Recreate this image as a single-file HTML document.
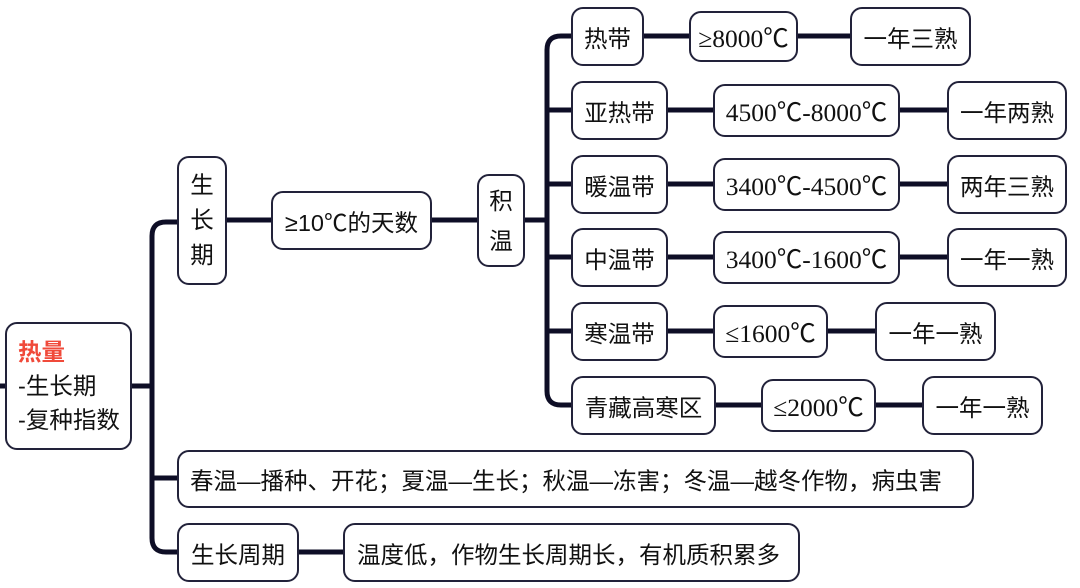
<!DOCTYPE html>
<html><head><meta charset="utf-8"><style>
body{margin:0;width:1080px;height:588px;background:#fff;position:relative;overflow:hidden;font-family:"Liberation Sans","Noto Sans CJK SC",sans-serif;color:#111}
.b{position:absolute;box-sizing:border-box;border:2px solid #22223a;border-radius:12px;background:#fff;display:flex;align-items:center;justify-content:center;font-size:23.5px;white-space:nowrap}
.s{font-family:"Liberation Serif","Noto Sans CJK SC",serif;font-size:25.5px}
svg{position:absolute;left:0;top:0}
</style></head><body>
<svg width="1080" height="588"><g fill="none" stroke="#0e0e26" stroke-width="5" stroke-linecap="round">
<path d="M0 386H152"/>
<path d="M177 222H166Q152 222 152 236V538Q152 552 166 552H177"/>
<path d="M152 478H177"/>
<path d="M226 220H271M431 220H477M524 220H547"/>
<path d="M571 36H561Q547 36 547 50V391Q547 405 561 405H571"/>
<path d="M547 110H571M547 184H571M547 257H571M547 331H571"/>
<path d="M643 36H689M797 36H850"/>
<path d="M667 110H713M899 110H947"/>
<path d="M667 184H713M899 184H947"/>
<path d="M667 257H713M899 257H947"/>
<path d="M667 331H713M827 331H875"/>
<path d="M715 405H761M875 405H922"/>
<path d="M298 552H343"/>
</g></svg>
<div class="b" style="left:5px;top:322px;width:127px;height:128px;justify-content:flex-start;padding-left:11px;line-height:34px"><div><span style="color:#f04a3a;font-weight:bold">热量</span><br>-生长期<br>-复种指数</div></div>
<div class="b" style="left:177px;top:156px;width:50px;height:129px;line-height:35px;text-align:center">生<br>长<br>期</div>
<div class="b" style="left:271px;top:191px;width:161px;height:59px">≥10℃的天数</div>
<div class="b" style="left:477px;top:174px;width:48px;height:93px;line-height:40px;text-align:center">积<br>温</div>
<div class="b" style="left:571px;top:7px;width:73px;height:59px">热带</div>
<div class="b s" style="left:689px;top:11px;width:109px;height:51px">≥8000℃</div>
<div class="b" style="left:850px;top:7px;width:121px;height:59px">一年三熟</div>
<div class="b" style="left:571px;top:81px;width:97px;height:59px">亚热带</div>
<div class="b s" style="left:713px;top:84px;width:187px;height:53px">4500℃-8000℃</div>
<div class="b" style="left:947px;top:81px;width:120px;height:59px">一年两熟</div>
<div class="b" style="left:571px;top:155px;width:97px;height:59px">暖温带</div>
<div class="b s" style="left:713px;top:158px;width:187px;height:53px">3400℃-4500℃</div>
<div class="b" style="left:947px;top:155px;width:120px;height:59px">两年三熟</div>
<div class="b" style="left:571px;top:228px;width:97px;height:59px">中温带</div>
<div class="b s" style="left:713px;top:231px;width:187px;height:53px">3400℃-1600℃</div>
<div class="b" style="left:947px;top:228px;width:120px;height:59px">一年一熟</div>
<div class="b" style="left:571px;top:302px;width:97px;height:59px">寒温带</div>
<div class="b s" style="left:713px;top:305px;width:115px;height:53px">≤1600℃</div>
<div class="b" style="left:875px;top:302px;width:121px;height:59px">一年一熟</div>
<div class="b" style="left:571px;top:376px;width:145px;height:59px">青藏高寒区</div>
<div class="b s" style="left:761px;top:379px;width:115px;height:53px">≤2000℃</div>
<div class="b" style="left:922px;top:376px;width:121px;height:59px">一年一熟</div>
<div class="b" style="left:177px;top:450px;width:797px;height:58px;justify-content:flex-start;padding-left:11px">春温—播种、开花；夏温—生长；秋温—冻害；冬温—越冬作物，病虫害</div>
<div class="b" style="left:177px;top:523px;width:122px;height:59px">生长周期</div>
<div class="b" style="left:343px;top:523px;width:457px;height:59px;justify-content:flex-start;padding-left:12px">温度低，作物生长周期长，有机质积累多</div>
</body></html>
